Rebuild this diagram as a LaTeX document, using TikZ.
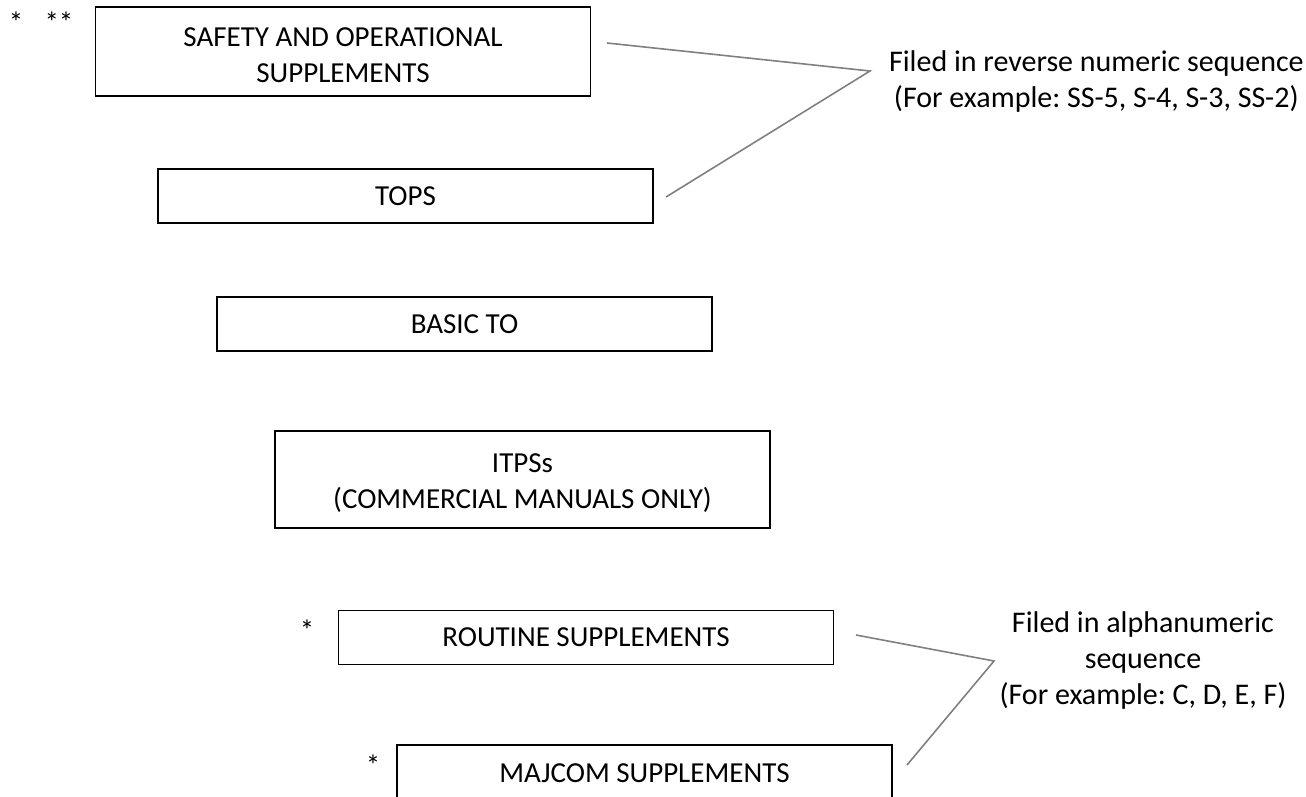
\documentclass[tikz,border=0pt]{standalone}
\usepackage{fontspec}
\setmainfont{Carlito}
\usepackage{tikz}
\frenchspacing

\begin{document}
\begin{tikzpicture}[x=0.5pt, y=-0.5pt,
        every node/.style={font=\fontsize{14.5}{18}\selectfont},
        box/.style={draw, rectangle, thick, inner sep=0pt, align=center, minimum width=247.5pt},
        note/.style={align=center, font=\fontsize{15}{18}\selectfont},
        link/.style={draw=gray, thick}]
        \clip (0,0) rectangle (1306,797);

        \node[box, minimum height=44.5pt] (SOS) at (343, 51.5) {\rule{0pt}{13.5pt}SAFETY AND OPERATIONAL\\SUPPLEMENTS};
        \node[box, minimum height=27pt] (TOPS) at (405.5, 196) {TOPS};
        \node[box, minimum height=27pt] (BTO) at (464.5, 324) {BASIC TO};
        \node[box, minimum height=48.5pt] (ITPS) at (522.5, 479.5) {\rule{0pt}{13.5pt}ITPSs\\(COMMERCIAL MANUALS ONLY)};
        \node[box, minimum height=27pt] (RS) at (586, 637.5) {ROUTINE SUPPLEMENTS};
        \node[box, minimum height=28pt] (MS) at (644.5, 773) {MAJCOM SUPPLEMENTS};

        \node (st1) at (16, 22) {*};
        \node (st2) at (59, 22) {**};
        \node (st3) at (307, 630) {*};
        \node (st4) at (373, 765) {*};

        \node[note, anchor=west] (Rev) at (882, 82) {Filed in reverse numeric sequence\\(For example: SS-5, S-4, S-3, SS-2)};
        \node[note] (Alpha) at (1143, 660) {Filed in alphanumeric\\sequence\\(For example: C, D, E, F)};

        \coordinate (a1) at (607, 43);
        \coordinate (a2) at (666, 197);
        \coordinate (j1) at (870, 71);
        \coordinate (b1) at (856, 635);
        \coordinate (b2) at (907, 765);
        \coordinate (j2) at (994, 661);

        \draw[link] (a1) -- (j1) -- (a2);
        \draw[link] (b1) -- (j2) -- (b2);
    \end{tikzpicture}
\end{document}
